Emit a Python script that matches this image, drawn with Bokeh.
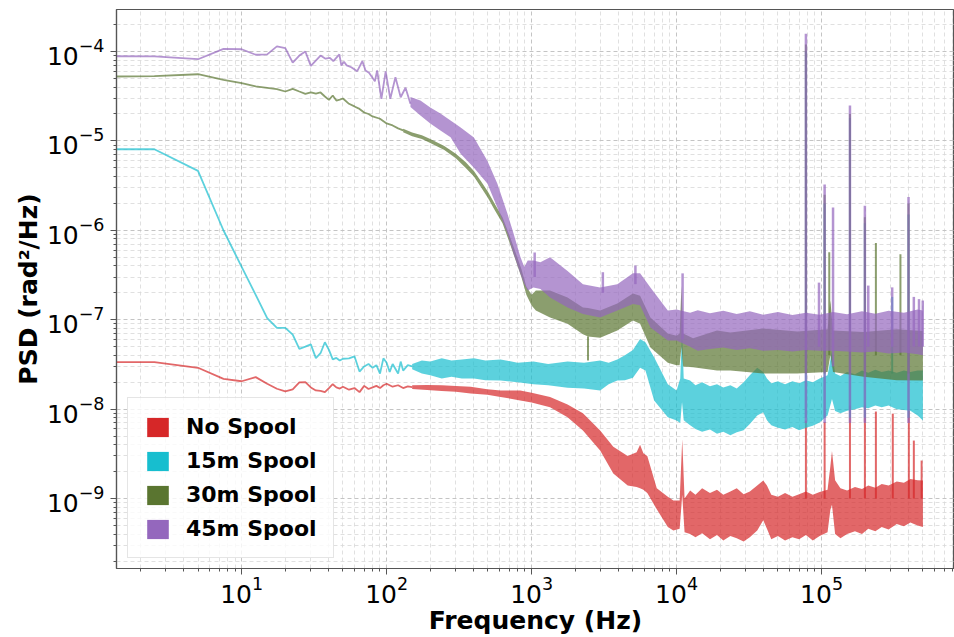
from bokeh.plotting import figure
from bokeh.models import Range1d, FixedTicker, Legend, LegendItem
from bokeh.embed import file_html
from bokeh.resources import INLINE

# ---------------- data ----------------
series_names = ["No Spool", "15m Spool", "30m Spool", "45m Spool"]
series_colors = ["#d62728", "#17becf", "#5a7530", "#9467bd"]

x_major_ticks = [1e1, 1e2, 1e3, 1e4, 1e5]
y_major_ticks = [1e-9, 1e-8, 1e-7, 1e-6, 1e-5, 1e-4]

# No Spool
red_line_f = [1.25, 2.5, 5, 7.5, 10, 12.5, 15, 17.5, 20, 22.5, 25, 27.5, 30, 32.5, 35, 37.5, 40, 42.5, 45, 47.5,
              50, 55, 60, 65, 70, 75, 80, 85, 90, 95, 100, 110, 120, 130, 140, 150]
red_line_psd = [3.35e-8, 3.35e-8, 2.9e-8, 2.18e-8, 2.05e-8, 2.28e-8, 1.92e-8, 1.69e-8, 1.58e-8, 1.66e-8,
                1.99e-8, 2.0e-8, 1.75e-8, 1.62e-8, 1.6e-8, 1.55e-8, 1.72e-8, 1.9e-8, 1.75e-8, 1.7e-8,
                1.78e-8, 1.65e-8, 1.72e-8, 1.55e-8, 1.82e-8, 1.68e-8, 1.75e-8, 1.82e-8, 1.72e-8, 1.85e-8,
                1.92e-8, 1.78e-8, 1.85e-8, 1.72e-8, 1.8e-8, 1.76e-8]
red_band_f = [150, 190, 240, 300, 380, 495, 611, 835, 1000, 1340, 1770, 2260, 2970, 3660, 4600, 5300, 5600, 5900,
              6280, 7300, 8700, 9500, 10500, 10940, 11350,
              12400, 13500, 15000, 17000, 19000, 21000, 23500, 26000, 29000, 32000, 36000, 39600, 42000, 45000,
              50000, 56000, 63000, 70000, 78000, 87000, 97000, 110000, 115000, 118000, 124000, 135000, 150000,
              170000, 190000, 210000, 235000, 260000, 290000, 330000, 370000, 410000, 460000, 500000]
red_band_hi = [1.85e-8, 1.86e-8, 1.85e-8, 1.82e-8, 1.78e-8, 1.67e-8, 1.62e-8, 1.62e-8, 1.52e-8, 1.37e-8,
               1.13e-8, 9.0e-9, 5.76e-9, 3.8e-9, 3.0e-9, 3.3e-9, 4.0e-9, 3.2e-9, 3.0e-9, 1.3e-9,
               1.05e-9, 9.5e-10, 9.5e-10, 4.6e-9, 1.0e-9,
               1.23e-9, 1.1e-9, 1.3e-9, 1.15e-9, 1.25e-9, 1.1e-9, 1.2e-9, 1.3e-9, 1.12e-9, 1.2e-9,
               1.4e-9, 1.59e-9, 1.4e-9, 1.1e-9, 1.05e-9, 1.15e-9, 1.05e-9, 1.12e-9, 1.2e-9, 1.1e-9,
               1.18e-9, 1.25e-9, 2.3e-9, 3.4e-9, 1.6e-9, 1.3e-9, 1.23e-9, 1.35e-9, 1.28e-9, 1.4e-9,
               1.32e-9, 1.45e-9, 1.4e-9, 1.55e-9, 1.5e-9, 1.65e-9, 1.6e-9, 1.59e-9]
red_band_lo = [1.68e-8, 1.64e-8, 1.6e-8, 1.56e-8, 1.5e-8, 1.45e-8, 1.37e-8, 1.25e-8, 1.19e-8, 1.05e-8,
               8.1e-9, 5.76e-9, 3.44e-9, 1.9e-9, 1.4e-9, 1.35e-9, 1.3e-9, 1.25e-9, 1.15e-9, 7.6e-10,
               4.8e-10, 4.4e-10, 4.6e-10, 1.1e-9, 4.2e-10,
               4.0e-10, 3.7e-10, 4.1e-10, 3.5e-10, 3.9e-10, 3.4e-10, 3.8e-10, 3.6e-10, 3.3e-10, 3.7e-10,
               4.4e-10, 5.7e-10, 4.6e-10, 3.5e-10, 3.8e-10, 3.4e-10, 3.7e-10, 3.5e-10, 3.9e-10, 3.4e-10,
               3.8e-10, 4.2e-10, 7.5e-10, 8.5e-10, 4.0e-10, 3.6e-10, 4.0e-10, 4.3e-10, 4.0e-10, 4.6e-10,
               4.3e-10, 4.8e-10, 4.5e-10, 5.2e-10, 4.9e-10, 5.4e-10, 5.0e-10, 4.8e-10]
red_spike_f = [78000, 105000, 157000, 199000, 237000, 310000, 400000, 433000, 490000]
red_spike_top = [7.45e-9, 7.2e-9, 1.1e-8, 1.1e-8, 9.4e-9, 8.9e-9, 9.6e-9, 4.45e-9, 2.66e-9]
red_spike_base = [1e-9, 1e-9, 1e-9, 1e-9, 1e-9, 1e-9, 1e-9, 1e-9, 1e-9]

# 15m Spool
cyan_line_f = [1.25, 2.5, 5, 7.5, 10, 12.5, 15, 17.5, 20, 22.5, 25, 27.5, 30, 32.5, 35, 37.5, 40, 42.5, 45, 47.5,
               50, 55, 60, 65, 70, 75, 80, 85, 90, 95, 100, 105, 110, 120, 125, 130, 140, 150]
cyan_line_psd = [8.07e-6, 8.07e-6, 4.62e-6, 9.95e-7, 3.9e-7, 1.9e-7, 1.04e-7, 8.1e-8, 8.1e-8, 6.8e-8,
                 4.72e-8, 5.0e-8, 5.3e-8, 3.72e-8, 4.22e-8, 5.6e-8, 4.6e-8, 3.6e-8, 3.74e-8, 3.5e-8,
                 3.66e-8, 3.7e-8, 3.9e-8, 2.63e-8, 3.0e-8, 3.2e-8, 2.9e-8, 3.1e-8, 2.5e-8, 3.7e-8,
                 3.3e-8, 2.6e-8, 3.2e-8, 2.5e-8, 3.4e-8, 2.7e-8, 3.1e-8, 3.0e-8]
cyan_band_f = [150, 175, 200, 240, 280, 330, 400, 480, 611, 800, 1030, 1300, 1770, 2300, 2970, 3400, 3900, 4400,
               5000, 5600, 6100, 7000, 8700, 10000, 10600, 10900, 11200,
               12400, 13500, 15000, 17000, 19000, 21000, 23500, 26000, 29000, 32000, 36000, 39600, 42000, 45000,
               50000, 56000, 63000, 70000, 78000, 87000, 97000, 110000, 118000, 124000, 135000, 150000, 170000,
               190000, 210000, 235000, 260000, 290000, 330000, 370000, 410000, 460000, 500000]
cyan_band_hi = [3.2e-8, 3.5e-8, 3.4e-8, 3.7e-8, 3.5e-8, 3.6e-8, 3.7e-8, 3.5e-8, 3.6e-8, 3.3e-8,
                3.4e-8, 3.2e-8, 3.4e-8, 3.3e-8, 3.5e-8, 3.3e-8, 3.6e-8, 4.0e-8, 4.6e-8, 6.1e-8,
                5.6e-8, 3.8e-8, 1.9e-8, 1.62e-8, 2.2e-8, 7.6e-8, 2.2e-8,
                2.09e-8, 1.85e-8, 2.0e-8, 1.8e-8, 1.9e-8, 1.75e-8, 1.85e-8, 1.7e-8, 2.0e-8, 2.4e-8,
                2.9e-8, 2.6e-8, 2.2e-8, 1.95e-8, 2.05e-8, 1.9e-8, 2.05e-8, 1.95e-8, 2.1e-8, 2.0e-8,
                2.2e-8, 2.4e-8, 4.5e-8, 2.5e-8, 2.35e-8, 2.6e-8, 2.45e-8, 2.7e-8, 2.55e-8, 2.75e-8,
                2.6e-8, 2.7e-8, 2.55e-8, 2.7e-8, 2.6e-8, 2.7e-8, 2.7e-8]
cyan_band_lo = [2.8e-8, 2.5e-8, 2.4e-8, 2.2e-8, 2.3e-8, 2.2e-8, 2.2e-8, 2.1e-8, 2.09e-8, 2.0e-8,
                1.9e-8, 1.85e-8, 1.73e-8, 1.7e-8, 1.62e-8, 1.9e-8, 2.09e-8, 2.1e-8, 2.25e-8, 2.9e-8,
                2.7e-8, 1.25e-8, 8.1e-9, 7.45e-9, 7.0e-9, 1.2e-8, 7.5e-9,
                6.6e-9, 6.0e-9, 5.6e-9, 5.9e-9, 5.3e-9, 5.6e-9, 5.1e-9, 5.5e-9, 5.8e-9, 6.8e-9,
                8.5e-9, 9.2e-9, 7.5e-9, 6.6e-9, 6.2e-9, 5.9e-9, 6.3e-9, 5.8e-9, 6.2e-9, 6.5e-9,
                7.1e-9, 8.5e-9, 1.3e-8, 9.5e-9, 9.0e-9, 9.6e-9, 1.0e-8, 1.05e-8, 1.02e-8, 1.1e-8,
                1.05e-8, 1.1e-8, 1.0e-8, 9.8e-9, 9.6e-9, 8.5e-9, 7.45e-9]
cyan_spike_f = [78000, 105000, 157000, 199000, 307000, 398000]
cyan_spike_top = [1.0e-4, 2.0e-6, 1.8e-5, 1.2e-6, 1.8e-7, 1.5e-6]
cyan_spike_base = [8e-9, 8e-9, 8e-9, 8e-9, 2.5e-8, 8e-9]

# 30m Spool
green_line_f = [1.25, 2.5, 5, 7.5, 10, 12.5, 15, 17.5, 20, 22.5, 25, 27.5, 30, 32.5, 35, 37.5, 40, 42.5, 45, 47.5,
                50, 55, 60, 65, 70, 75, 80, 90, 100, 110, 120, 130]
green_line_psd = [5.25e-5, 5.3e-5, 5.57e-5, 4.82e-5, 4.42e-5, 4.07e-5, 3.93e-5, 3.8e-5, 3.57e-5, 3.82e-5,
                  3.57e-5, 3.36e-5, 3.5e-5, 3.38e-5, 3.48e-5, 3.14e-5, 2.88e-5, 3.22e-5, 2.83e-5, 2.9e-5,
                  2.98e-5, 2.6e-5, 2.43e-5, 2.28e-5, 2.08e-5, 2.0e-5, 1.88e-5, 1.77e-5, 1.57e-5, 1.49e-5,
                  1.38e-5, 1.31e-5]
green_band_f = [130, 150, 175, 200, 250, 300, 350, 400, 450, 500, 560, 630, 700, 780, 850, 920,
                1000, 1070, 1340, 1770, 2260, 2450, 2970, 3900, 5000, 5600, 6600, 8700, 10000, 10500, 10800,
                11100, 13000, 19000, 23500, 39600, 68000, 110000, 115000, 120000, 195000, 330000, 500000]
green_band_hi = [1.37e-5, 1.24e-5, 1.16e-5, 1.05e-5, 8.8e-6, 7.2e-6, 5.8e-6, 4.6e-6, 3.5e-6, 2.7e-6,
                 1.95e-6, 1.4e-6, 9.0e-7, 5.5e-7, 3.7e-7, 2.35e-7,
                 1.9e-7, 2.12e-7, 2.12e-7, 1.77e-7, 1.37e-7, 1.35e-7, 1.27e-7, 1.52e-7, 1.97e-7, 1.85e-7,
                 1.06e-7, 7.0e-8, 6.6e-8, 7.0e-8, 2.4e-7, 7.0e-8, 6.2e-8, 7.6e-8, 7.2e-8, 8.0e-8,
                 7.4e-8, 7.8e-8, 1.64e-7, 7.6e-8, 7.3e-8, 7.8e-8, 7.5e-8]
green_band_lo = [1.25e-5, 1.13e-5, 1.05e-5, 9.5e-6, 7.9e-6, 6.4e-6, 5.0e-6, 4.0e-6, 3.0e-6, 2.3e-6,
                 1.65e-6, 1.2e-6, 7.5e-7, 4.5e-7, 3.0e-7, 1.9e-7,
                 1.44e-7, 1.27e-7, 1.06e-7, 9.0e-8, 6.9e-8, 6.5e-8, 6.3e-8, 7.6e-8, 9.8e-8, 9.0e-8,
                 4.9e-8, 3.3e-8, 3.1e-8, 3.1e-8, 5.0e-8, 3.0e-8, 2.95e-8, 2.7e-8, 2.7e-8, 2.5e-8,
                 2.5e-8, 2.6e-8, 4.0e-8, 2.6e-8, 2.3e-8, 2.1e-8, 2.09e-8]
green_spike_f = [2450, 78000, 105000, 113000, 157000, 199000, 237000, 350000, 398000]
green_spike_top = [3.5e-8, 1.2e-4, 2.5e-6, 5.7e-7, 2.0e-5, 1.4e-6, 7.2e-7, 5.4e-7, 2.0e-6]
green_spike_base = [6.5e-8, 2.5e-8, 2.5e-8, 4e-8, 2.5e-8, 2.5e-8, 4e-8, 4e-8, 2.5e-8]

# 45m Spool
purple_line_f = [1.25, 2.5, 5, 7.5, 10, 12.5, 15, 17.5, 20, 22.5, 25, 27.5, 30, 35, 37.9, 40.6, 42.9, 47.2, 48.7,
                 50.8, 53, 57, 62.7, 68, 71.5, 75.6, 83, 86, 92, 98.5, 106, 115, 125, 135, 146]
purple_line_psd = [8.86e-5, 8.8e-5, 8.2e-5, 1.07e-4, 1.06e-4, 9.2e-5, 9.3e-5, 1.14e-4, 1.09e-4, 7.5e-5,
                   9.0e-5, 1.0e-4, 6.9e-5, 9.0e-5, 8.3e-5, 8.5e-5, 7.8e-5, 9.3e-5, 7.0e-5, 7.7e-5,
                   7.0e-5, 6.67e-5, 6.02e-5, 7.8e-5, 6.13e-5, 5.78e-5, 4.65e-5, 6.13e-5, 2.96e-5, 6.0e-5,
                   2.96e-5, 5.16e-5, 3.08e-5, 3.93e-5, 2.6e-5]
purple_band_f = [146, 171, 200, 235, 276, 324, 400, 495, 580, 680, 750, 835, 890, 940, 1030, 1150, 1340, 1770,
                 2260, 2970, 3900, 5000, 5600, 6600, 8700,
                 10000, 12400, 14000, 17000, 21000, 26000, 32000, 39600, 50000, 63000, 78000, 97000, 120000,
                 150000, 190000, 235000, 290000, 370000, 460000, 500000]
purple_band_hi = [3.1e-5, 2.84e-5, 2.37e-5, 2.03e-5, 1.69e-5, 1.41e-5, 1.09e-5, 6.0e-6, 3.35e-6, 1.55e-6,
                  9.3e-7, 5.1e-7, 3.9e-7, 4.6e-7, 4.6e-7, 4.4e-7, 5.0e-7, 3.5e-7, 2.5e-7, 2.3e-7,
                  2.5e-7, 3.3e-7, 3.3e-7, 2.3e-7, 1.27e-7,
                  1.3e-7, 1.2e-7, 1.28e-7, 1.18e-7, 1.26e-7, 1.16e-7, 1.24e-7, 1.14e-7, 1.22e-7, 1.13e-7,
                  1.2e-7, 1.14e-7, 1.22e-7, 1.15e-7, 1.24e-7, 1.17e-7, 1.26e-7, 1.2e-7, 1.3e-7, 1.27e-7]
purple_band_lo = [2.4e-5, 1.92e-5, 1.57e-5, 1.31e-5, 1.1e-5, 7.2e-6, 5.0e-6, 3.35e-6, 1.8e-6, 9.3e-7,
                  5.5e-7, 3.3e-7, 2.5e-7, 2.12e-7, 2.3e-7, 2.2e-7, 1.77e-7, 1.37e-7, 1.16e-7, 1.06e-7,
                  1.27e-7, 1.5e-7, 1.45e-7, 8.2e-8, 5.85e-8,
                  5.85e-8, 5.0e-8, 4.5e-8, 4.7e-8, 4.9e-8, 4.6e-8, 4.8e-8, 4.5e-8, 4.6e-8, 4.4e-8,
                  4.6e-8, 4.5e-8, 4.5e-8, 4.4e-8, 4.3e-8, 4.4e-8, 4.2e-8, 4.3e-8, 4.1e-8, 4.0e-8]
purple_spike_f = [1050, 3100, 5200, 11000, 78000, 96000, 105000, 120000, 157000, 199000, 210000, 307000,
                  398000, 433000, 470000, 499000]
purple_spike_top = [5.65e-7, 3.4e-7, 4.04e-7, 3.3e-7, 1.58e-4, 2.6e-7, 3.25e-6, 1.8e-6, 2.49e-5, 1.88e-6,
                    2.41e-7, 2.3e-7, 2.36e-6, 1.8e-7, 1.7e-7, 1.64e-7]
purple_spike_base = [3e-7, 2e-7, 2.5e-7, 6e-8, 7e-9, 5e-8, 7e-9, 3e-8, 7e-9, 7e-9, 5e-8, 5e-8, 7e-9, 5e-8,
                     5e-8, 5e-8]

series = [
    (red_line_f, red_line_psd, red_band_f, red_band_lo, red_band_hi, red_spike_f, red_spike_base, red_spike_top),
    (cyan_line_f, cyan_line_psd, cyan_band_f, cyan_band_lo, cyan_band_hi, cyan_spike_f, cyan_spike_base, cyan_spike_top),
    (green_line_f, green_line_psd, green_band_f, green_band_lo, green_band_hi, green_spike_f, green_spike_base, green_spike_top),
    (purple_line_f, purple_line_psd, purple_band_f, purple_band_lo, purple_band_hi, purple_spike_f, purple_spike_base, purple_spike_top),
]
spike_widths = [2, 2, 2, 2.5]

# ---------------- figure ----------------
FONT = "DejaVu Sans"
p = figure(width=954, height=637, x_axis_type="log", y_axis_type="log",
           x_range=Range1d(1.37, 8.26e5), y_range=Range1d(1.65e-10, 2.95e-4),
           output_backend="svg", toolbar_location=None,
           min_border_left=116, min_border_right=0, min_border_top=9, min_border_bottom=69)
p.background_fill_color = "white"
p.border_fill_color = "white"
p.outline_line_color = "#555555"
p.outline_line_width = 1.2

x_minor = [m * 10.0 ** k for k in range(0, 6) for m in range(2, 10)]
y_minor = [m * 10.0 ** k for k in range(-10, -3) for m in range(2, 10)]
p.xaxis.ticker = FixedTicker(ticks=x_major_ticks, minor_ticks=x_minor)
p.yaxis.ticker = FixedTicker(ticks=y_major_ticks, minor_ticks=y_minor)

for ax in (p.xaxis, p.yaxis):
    ax.axis_line_color = "#555555"
    ax.axis_line_width = 1.2
    ax.major_tick_line_color = "#555555"
    ax.minor_tick_line_color = "#555555"
    ax.major_tick_out = 6
    ax.major_tick_in = 0
    ax.minor_tick_out = 3
    ax.minor_tick_in = 0
    ax.major_label_text_font = FONT
    ax.major_label_text_font_size = "25px"
    ax.major_label_text_color = "black"
    ax.axis_label_text_font = FONT
    ax.axis_label_text_font_size = "25px"
    ax.axis_label_text_font_style = "bold"
    ax.axis_label_text_color = "black"

p.xaxis.axis_label = "Frequency (Hz)"
p.yaxis.axis_label = "PSD (rad²/Hz)"
p.xaxis.major_label_standoff = 1
p.xaxis.axis_label_standoff = 0
p.yaxis.major_label_standoff = 6
p.yaxis.axis_label_standoff = 1

for g in (p.xgrid, p.ygrid):
    g.grid_line_color = "#c4c4c4"
    g.grid_line_dash = "4 3"
    g.grid_line_width = 1
    g.minor_grid_line_color = "#d8d8d8"
    g.minor_grid_line_dash = "4 3"
    g.minor_grid_line_width = 0.8

ALPHA = 0.7
for (lf, lp, bf, blo, bhi, sf, sb, st), col, sw in zip(series, series_colors, spike_widths):
    p.line(lf, lp, line_color=col, line_alpha=ALPHA, line_width=1.8)
    p.varea(x=bf, y1=blo, y2=bhi, fill_color=col, fill_alpha=ALPHA)
    p.segment(x0=sf, y0=sb, x1=sf, y1=st, line_color=col, line_alpha=ALPHA, line_width=sw)

items = []
for name, col in zip(series_names, series_colors):
    r = p.quad(left=[float("nan")], right=[float("nan")], bottom=[float("nan")], top=[float("nan")],
               fill_color=col, line_color=None)
    items.append(LegendItem(label=name, renderers=[r]))

legend = Legend(items=items, location=(11, 10),
                label_text_font=FONT, label_text_font_style="bold", label_text_font_size="22px",
                label_text_color="black",
                glyph_width=27, glyph_height=24, label_standoff=15, label_height=24,
                padding=16, spacing=9, margin=0,
                border_line_color="#cccccc", border_line_width=1,
                background_fill_color="white", background_fill_alpha=0.8)
p.add_layout(legend)

open("out.html", "w").write(file_html(p, INLINE))
